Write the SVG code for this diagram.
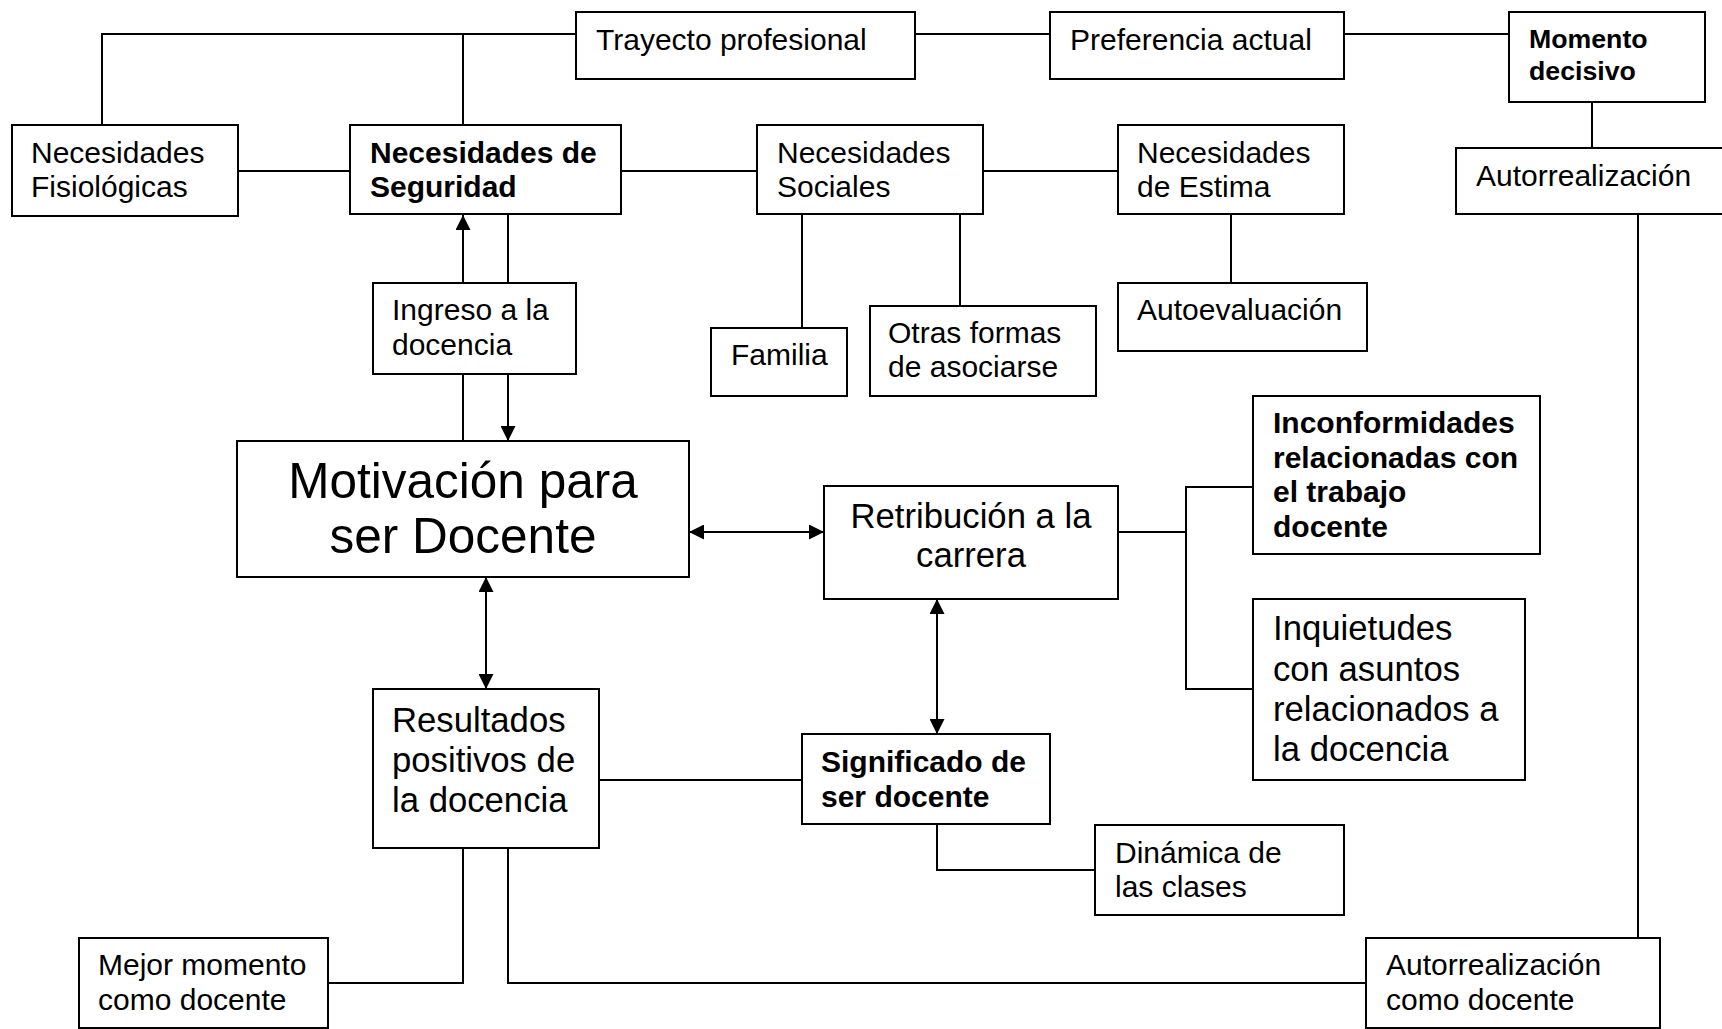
<svg xmlns="http://www.w3.org/2000/svg" width="1722" height="1029" viewBox="0 0 1722 1029">
<defs>
<style>
.b{fill:#fff;stroke:#000;stroke-width:2}
.t{font-family:"Liberation Sans",Arial,sans-serif;font-size:30px;fill:#000}
.bd{font-weight:bold}
.m{font-size:34.7px}
.c{stroke:#000;stroke-width:2;fill:none}
.a{marker-end:url(#ah)}
.aa{marker-start:url(#ah);marker-end:url(#ah)}
</style>
<marker id="ah" markerUnits="userSpaceOnUse" markerWidth="15" markerHeight="15" refX="15" refY="7.5" orient="auto-start-reverse" viewBox="0 0 15 15">
<path d="M0,0 L15,7.5 L0,15 z" fill="#000"/>
</marker>
</defs>
<rect width="1722" height="1029" fill="#fff"/>
<g id="connectors">
<polyline class="c" points="102,125 102,34 576,34"/>
<line class="c" x1="463" y1="34" x2="463" y2="125"/>
<line class="c" x1="915" y1="34" x2="1050" y2="34"/>
<line class="c" x1="1344" y1="34" x2="1509" y2="34"/>
<line class="c" x1="1592" y1="102" x2="1592" y2="148"/>
<line class="c" x1="238" y1="171" x2="350" y2="171"/>
<line class="c" x1="621" y1="171" x2="757" y2="171"/>
<line class="c" x1="983" y1="171" x2="1118" y2="171"/>
<line class="c" x1="802" y1="214" x2="802" y2="328"/>
<line class="c" x1="960" y1="214" x2="960" y2="306"/>
<line class="c" x1="1231" y1="214" x2="1231" y2="283"/>
<line class="c" x1="1638" y1="214" x2="1638" y2="938"/>
<line class="c a" x1="463" y1="283" x2="463" y2="215"/>
<line class="c" x1="508" y1="214" x2="508" y2="283"/>
<line class="c" x1="463" y1="374" x2="463" y2="441"/>
<line class="c a" x1="508" y1="374" x2="508" y2="441"/>
<line class="c aa" x1="689" y1="532" x2="824" y2="532"/>
<line class="c aa" x1="486" y1="577" x2="486" y2="689"/>
<line class="c aa" x1="937" y1="599" x2="937" y2="734"/>
<line class="c" x1="1118" y1="532" x2="1186" y2="532"/>
<polyline class="c" points="1253,487 1186,487 1186,689 1253,689"/>
<line class="c" x1="599" y1="780" x2="802" y2="780"/>
<polyline class="c" points="937,824 937,870 1095,870"/>
<polyline class="c" points="463,848 463,983 328,983"/>
<polyline class="c" points="508,848 508,983 1366,983"/>
</g>
<g id="trayecto"><rect class="b" x="576" y="12" width="339" height="67"/><text class="t" x="596" y="50">Trayecto profesional</text></g>
<g id="preferencia"><rect class="b" x="1050" y="12" width="294" height="67"/><text class="t" x="1070" y="50">Preferencia actual</text></g>
<g id="momento"><rect class="b" x="1509" y="12" width="196" height="90"/><text class="t bd" style="font-size:26.7px" x="1529" y="48">Momento</text><text class="t bd" style="font-size:26.7px" x="1529" y="80">decisivo</text></g>
<g id="fisiologicas"><rect class="b" x="12" y="125" width="226" height="91"/><text class="t" x="31" y="163">Necesidades</text><text class="t" x="31" y="197">Fisiológicas</text></g>
<g id="seguridad"><rect class="b" x="350" y="125" width="271" height="89"/><text class="t bd" x="370" y="163">Necesidades de</text><text class="t bd" x="370" y="197">Seguridad</text></g>
<g id="sociales"><rect class="b" x="757" y="125" width="226" height="89"/><text class="t" x="777" y="163">Necesidades</text><text class="t" x="777" y="197">Sociales</text></g>
<g id="estima"><rect class="b" x="1118" y="125" width="226" height="89"/><text class="t" x="1137" y="163">Necesidades</text><text class="t" x="1137" y="197">de Estima</text></g>
<g id="autorrealizacion"><rect class="b" x="1456" y="148" width="280" height="66"/><text class="t" x="1476" y="186">Autorrealización</text></g>
<g id="ingreso"><rect class="b" x="373" y="283" width="203" height="91"/><text class="t" x="392" y="320">Ingreso a la</text><text class="t" x="392" y="355">docencia</text></g>
<g id="familia"><rect class="b" x="711" y="328" width="136" height="68"/><text class="t" x="731" y="365">Familia</text></g>
<g id="otras"><rect class="b" x="870" y="306" width="226" height="90"/><text class="t" x="888" y="343">Otras formas</text><text class="t" x="888" y="377">de asociarse</text></g>
<g id="autoevaluacion"><rect class="b" x="1118" y="283" width="249" height="68"/><text class="t" x="1137" y="320">Autoevaluación</text></g>
<g id="motivacion"><rect class="b" x="237" y="441" width="452" height="136"/><text class="t" style="font-size:49.5px" text-anchor="middle" x="463" y="498">Motivación para</text><text class="t" style="font-size:49.5px" text-anchor="middle" x="463" y="553">ser Docente</text></g>
<g id="retribucion"><rect class="b" x="824" y="486" width="294" height="113"/><text class="t m" text-anchor="middle" x="971" y="528">Retribución a la</text><text class="t m" text-anchor="middle" x="971" y="567">carrera</text></g>
<g id="inconformidades"><rect class="b" x="1253" y="396" width="287" height="158"/><text class="t bd" x="1273" y="433">Inconformidades</text><text class="t bd" x="1273" y="468">relacionadas con</text><text class="t bd" x="1273" y="502">el trabajo</text><text class="t bd" x="1273" y="537">docente</text></g>
<g id="inquietudes"><rect class="b" x="1253" y="599" width="272" height="181"/><text class="t m" x="1273" y="640">Inquietudes</text><text class="t m" x="1273" y="681">con asuntos</text><text class="t m" x="1273" y="721">relacionados a</text><text class="t m" x="1273" y="761">la docencia</text></g>
<g id="resultados"><rect class="b" x="373" y="689" width="226" height="159"/><text class="t m" x="392" y="732">Resultados</text><text class="t m" x="392" y="772">positivos de</text><text class="t m" x="392" y="812">la docencia</text></g>
<g id="significado"><rect class="b" x="802" y="734" width="248" height="90"/><text class="t bd" x="821" y="772">Significado de</text><text class="t bd" x="821" y="807">ser docente</text></g>
<g id="dinamica"><rect class="b" x="1095" y="825" width="249" height="90"/><text class="t" x="1115" y="863">Dinámica de</text><text class="t" x="1115" y="897">las clases</text></g>
<g id="mejor"><rect class="b" x="79" y="938" width="249" height="90"/><text class="t" x="98" y="975">Mejor momento</text><text class="t" x="98" y="1010">como docente</text></g>
<g id="autorrealizacion-docente"><rect class="b" x="1366" y="938" width="294" height="90"/><text class="t" x="1386" y="975">Autorrealización</text><text class="t" x="1386" y="1010">como docente</text></g>
</svg>
